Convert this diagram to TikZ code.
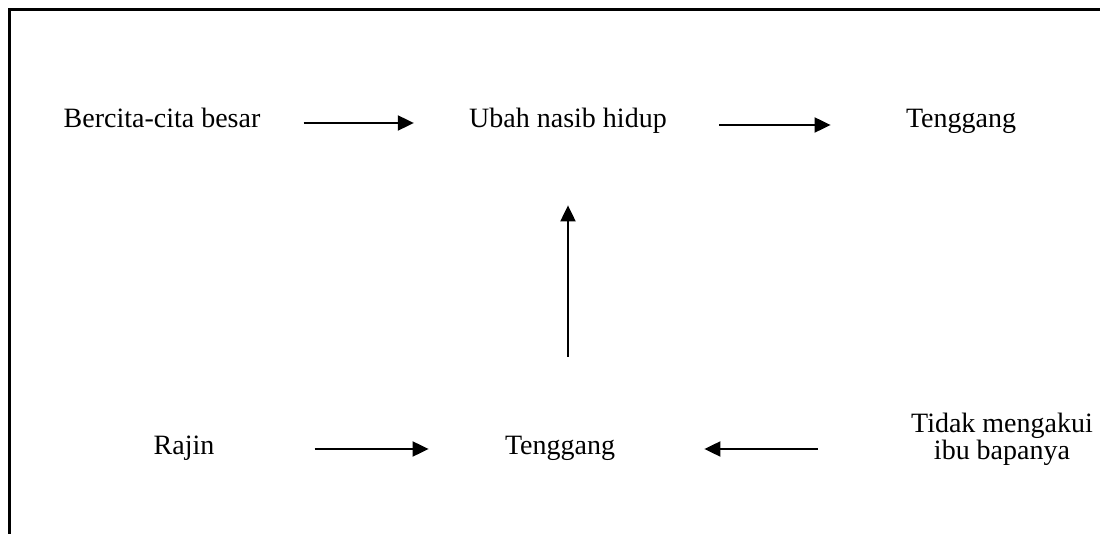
\documentclass[tikz,border=0pt]{standalone}
\usepackage{fontspec}
\setmainfont{Liberation Serif}
\usetikzlibrary{arrows.meta}

\tikzset{
  word/.style={inner sep=0pt, text height=10pt, text depth=3pt, font=\fontsize{14}{14}\selectfont},
  arr/.style={line width=1pt, -{Triangle[length=8pt,width=7.5pt]}},
  frame/.style={line width=1.5pt, line join=miter}
}

\begin{document}
\begin{tikzpicture}[x=0.5pt, y=-0.5pt]
  \useasboundingbox (0,0) rectangle (1100,534);
  % Frame
  \draw[frame] (9,534) -- (9,10) -- (1100,10);
  % Nodes
  \node (bercita) [word] at (162,121) {Bercita-cita besar};
  \node (ubah) [word] at (568,121) {Ubah nasib hidup};
  \node (teng-1) [word] at (961,121) {Tenggang};
  \node (rajin) [word] at (184,448) {Rajin};
  \node (teng-2) [word] at (560,448) {Tenggang};
  \node (tidak) [word, align=center, font=\fontsize{14}{13.5}\selectfont, text height=, text depth=] at (1002,439) {Tidak mengakui\\ibu bapanya};
  % Arrows
  \draw[arr] ([xshift=21.5pt,yshift=-1pt]bercita.east) -- ([xshift=-27.5pt,yshift=-1pt]ubah.west);
  \draw[arr] ([xshift=26pt,yshift=-2pt]ubah.east) -- ([xshift=-37.5pt,yshift=-2pt]teng-1.west);
  \draw[arr] ([yshift=39pt]ubah.south |- teng-2.north) -- ([yshift=-35.5pt]ubah.south);
  \draw[arr] ([xshift=50pt,yshift=-0.5pt]rajin.east) -- ([xshift=-38pt,yshift=-0.5pt]teng-2.west);
  \draw[arr] ([xshift=-46.5pt,yshift=-0.5pt]tidak.west |- teng-2.east) -- ([xshift=44.5pt,yshift=-0.5pt]teng-2.east);
\end{tikzpicture}
\end{document}
